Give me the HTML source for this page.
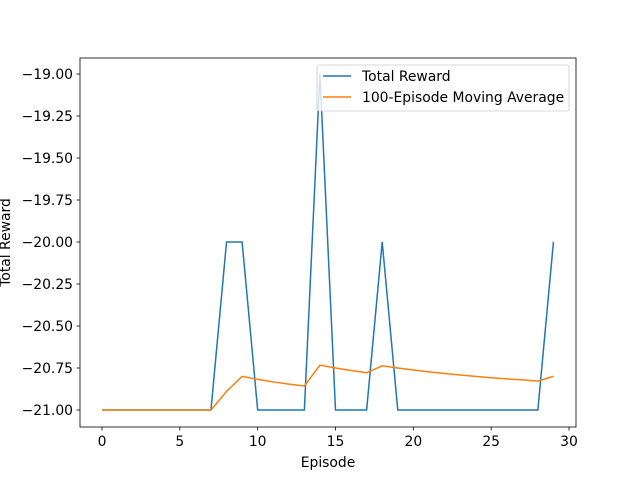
<!DOCTYPE html>
<html><head><meta charset="utf-8"><style>
body{margin:0;background:#fff;}
svg text{font-family:"DejaVu Sans","Liberation Sans",sans-serif;font-size:13.9px;fill:#000;}
</style></head><body>
<svg id="chart" width="640" height="480" xmlns="http://www.w3.org/2000/svg">
<rect width="640" height="480" fill="#fff"/>
<g id="plot"></g>
</svg>
<script>
const episodes=[0,1,2,3,4,5,6,7,8,9,10,11,12,13,14,15,16,17,18,19,20,21,22,23,24,25,26,27,28,29];
const totalReward=[-21,-21,-21,-21,-21,-21,-21,-21,-20,-20,-21,-21,-21,-21,-19,-21,-21,-21,-20,-21,-21,-21,-21,-21,-21,-21,-21,-21,-21,-20];
const movingAvg=[-21,-21,-21,-21,-21,-21,-21,-21,-20.889,-20.8,-20.818,-20.833,-20.846,-20.857,-20.733,-20.75,-20.765,-20.778,-20.737,-20.75,-20.762,-20.773,-20.783,-20.792,-20.8,-20.808,-20.815,-20.821,-20.828,-20.8];
const xTicks=[0,5,10,15,20,25,30];
const yTicks=[-21,-20.75,-20.5,-20.25,-20,-19.75,-19.5,-19.25,-19];
const L=80,R=576,T=58,B=427;
const xs=v=>102+(v-0)*(569-102)/30;
const ys=v=>410-(v+21)*(410-74)/2;
const NS="http://www.w3.org/2000/svg";
const g=document.getElementById('plot');
function mk(t,a,p){const e=document.createElementNS(NS,t);for(const k in a)e.setAttribute(k,a[k]);(p||g).appendChild(e);return e;}
function line(data,color,name){
  const p=mk('polyline',{points:data.map((v,i)=>xs(episodes[i])+','+ys(v)).join(' '),fill:'none',stroke:color,'stroke-width':1.5});
  
  
}
line(totalReward,'#1f77b4','total-reward-line');
line(movingAvg,'#ff7f0e','moving-average-line');
const fr=mk('rect',{x:L,y:T,width:R-L,height:B-T,fill:'none',stroke:'#000','stroke-width':0.8});


xTicks.forEach(v=>{
  mk('line',{x1:xs(v),x2:xs(v),y1:B,y2:B+3.5,stroke:'#000','stroke-width':0.8});
  const t=mk('text',{x:xs(v),y:B+19,'text-anchor':'middle'});t.textContent=v;
  
  
});
yTicks.forEach(v=>{
  mk('line',{x1:L-3.5,x2:L,y1:ys(v),y2:ys(v),stroke:'#000','stroke-width':0.8});
  const t=mk('text',{x:L-7,y:ys(v)+5,'text-anchor':'end'});t.textContent=(v<0?'\u2212':'')+Math.abs(v).toFixed(2);
  
  
});
const xt=mk('text',{x:(L+R)/2,y:467,'text-anchor':'middle'});xt.textContent='Episode';


const yt=mk('text',{x:10,y:(T+B)/2,'text-anchor':'middle',transform:'rotate(-90 10 '+(T+B)/2+')'});yt.textContent='Total Reward';


const lg=mk('g',{});


mk('rect',{x:317,y:65,width:252,height:46,rx:2,fill:'#fff','fill-opacity':0.8,stroke:'#ccc','stroke-width':0.8},lg);
mk('line',{x1:323,x2:351,y1:76,y2:76,stroke:'#1f77b4','stroke-width':1.5},lg);
const l1=mk('text',{x:362,y:81},lg);l1.textContent='Total Reward';


mk('line',{x1:323,x2:351,y1:97,y2:97,stroke:'#ff7f0e','stroke-width':1.5},lg);
const l2=mk('text',{x:362,y:102},lg);l2.textContent='100-Episode Moving Average';


</script>
</body></html>
